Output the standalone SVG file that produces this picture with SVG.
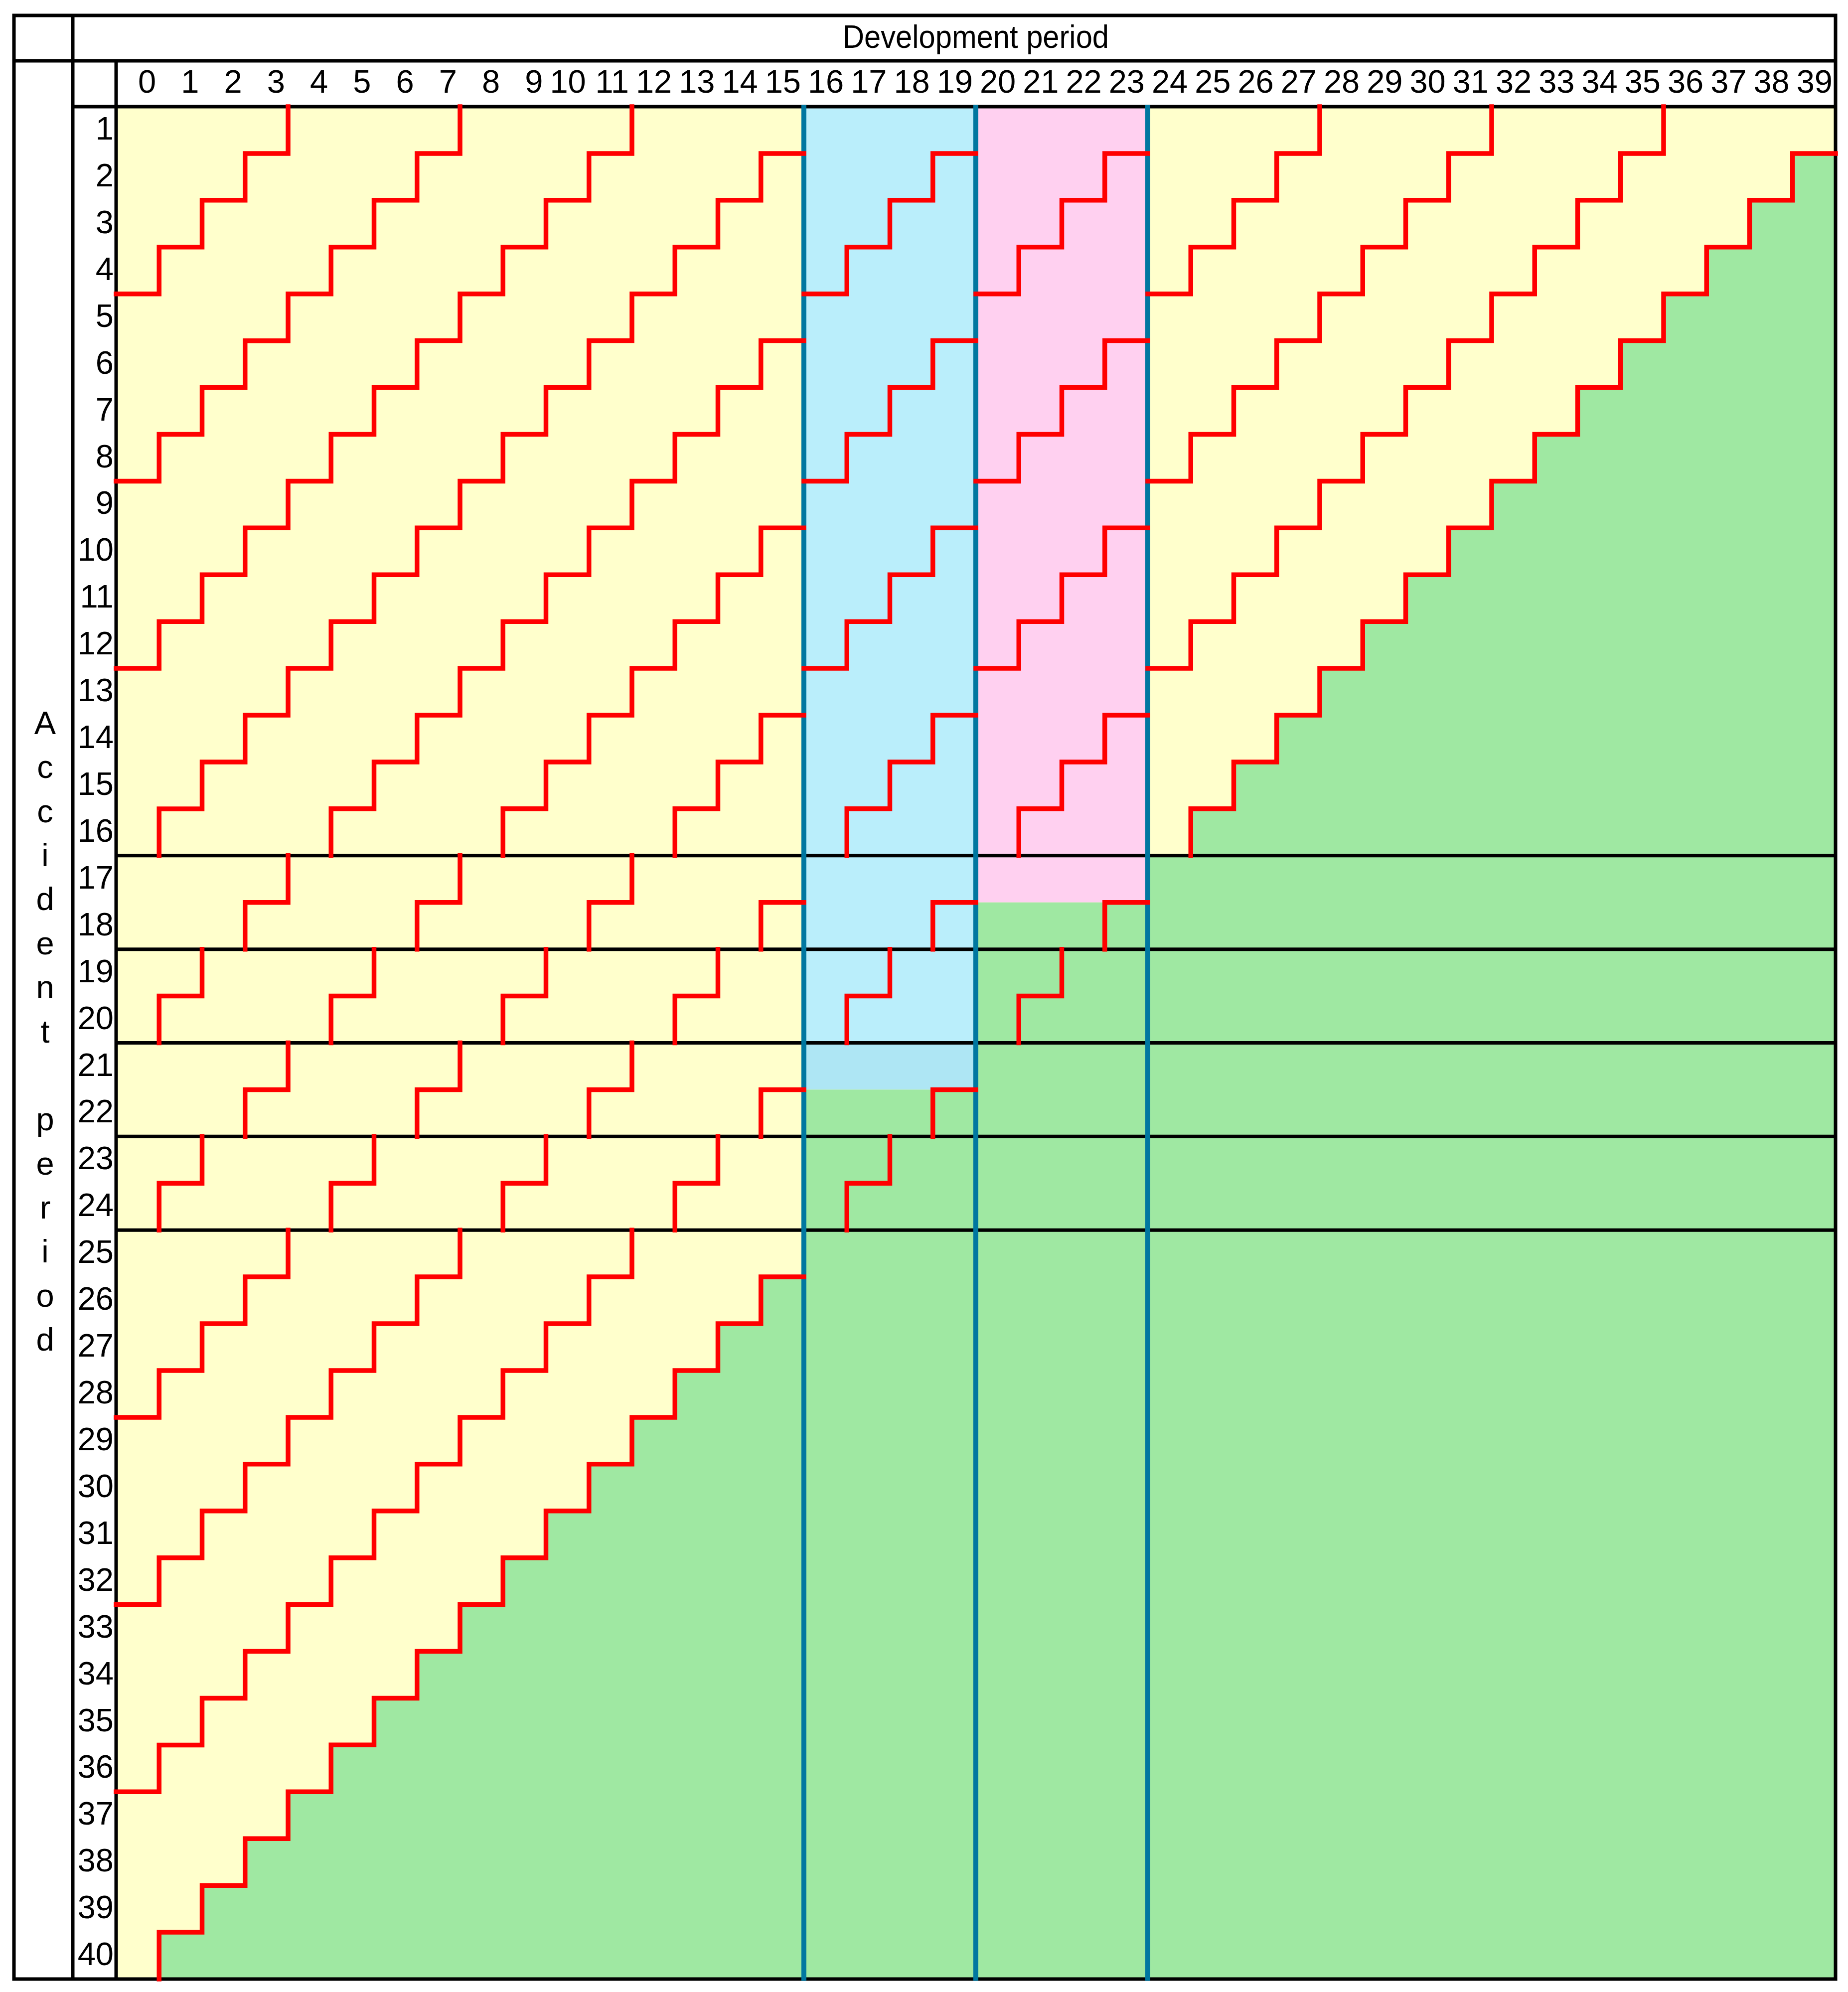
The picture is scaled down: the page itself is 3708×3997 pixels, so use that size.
<svg xmlns="http://www.w3.org/2000/svg" width="3708" height="3997" viewBox="0 0 3708 3997">
<style>
.t{font-family:"Liberation Sans",Arial,Helvetica,sans-serif;font-size:65px;fill:#000}
.e{text-anchor:end}
.m{text-anchor:middle}
.bk{stroke:#000;stroke-width:7;fill:none}
.bl{stroke:#0077A0;stroke-width:10;fill:none}
.rd{stroke:#FF0000;stroke-width:9.5;fill:none;stroke-linecap:square;stroke-linejoin:miter}
</style>
<rect x="0" y="0" width="3708" height="3997" fill="#FFFFFF"/>
<g id="fills">
<rect x="233" y="214" width="3450" height="3757" fill="#FFFFCC"/>
<path fill="#9FE8A2" d="M3683 307.925 h-86.25
v93.925h-86.25 v93.925h-86.25 v93.925h-86.25 v93.925h-86.25 v93.925h-86.25
v93.925h-86.25 v93.925h-86.25 v93.925h-86.25 v93.925h-86.25 v93.925h-86.25
v93.925h-86.25 v93.925h-86.25 v93.925h-86.25 v93.925h-86.25 v93.925h-86.25
v93.925h-86.25 v93.925h-86.25 v93.925h-86.25 v93.925h-86.25 v93.925h-86.25
v93.925h-86.25 v93.925h-86.25 v93.925h-86.25 v93.925h-86.25 v93.925h-86.25
v93.925h-86.25 v93.925h-86.25 v93.925h-86.25 v93.925h-86.25 v93.925h-86.25
v93.925h-86.25 v93.925h-86.25 v93.925h-86.25 v93.925h-86.25 v93.925h-86.25
v93.925h-86.25 v93.925h-86.25 v93.925h-86.25
v93.925 H3683 Z"/>
<rect x="1613" y="214" width="345" height="1878.5" fill="#BAEEFB"/>
<rect x="1613" y="2092.5" width="345" height="93.925" fill="#AEE6F4"/>
<rect x="1613" y="2186.425" width="345" height="1784.575" fill="#9FE8A2"/>
<rect x="1958" y="214" width="345" height="1596.725" fill="#FFD0F0"/>
<rect x="1958" y="1810.725" width="345" height="2160.275" fill="#9FE8A2"/>
</g>
<g id="grid">
<rect class="bk" x="28" y="31" width="3655" height="3940"/>
<line class="bk" x1="146" y1="31" x2="146" y2="3971"/>
<line class="bk" x1="28" y1="122" x2="3683" y2="122"/>
<line class="bk" x1="233" y1="122" x2="233" y2="3971"/>
<line class="bk" x1="146" y1="214" x2="3683" y2="214"/>
<line class="bk" x1="233" y1="1716.8" x2="3683" y2="1716.8"/>
<line class="bk" x1="233" y1="1904.65" x2="3683" y2="1904.65"/>
<line class="bk" x1="233" y1="2092.5" x2="3683" y2="2092.5"/>
<line class="bk" x1="233" y1="2280.35" x2="3683" y2="2280.35"/>
<line class="bk" x1="233" y1="2468.2" x2="3683" y2="2468.2"/>
</g>
<g id="blue-lines">
<line class="bl" x1="1613" y1="210.5" x2="1613" y2="3974.5"/>
<line class="bl" x1="1958" y1="210.5" x2="1958" y2="3974.5"/>
<line class="bl" x1="2303" y1="210.5" x2="2303" y2="3974.5"/>
</g>
<g id="connectors">
<path class="rd" d="M233 589.7
h86.25v-93.925 h86.25v-93.925 h86.25v-93.925 h86.25v-93.925"/>
<path class="rd" d="M233 965.4
h86.25v-93.925 h86.25v-93.925 h86.25v-93.925 h86.25v-93.925 h86.25v-93.925
h86.25v-93.925 h86.25v-93.925 h86.25v-93.925"/>
<path class="rd" d="M233 1341.1
h86.25v-93.925 h86.25v-93.925 h86.25v-93.925 h86.25v-93.925 h86.25v-93.925
h86.25v-93.925 h86.25v-93.925 h86.25v-93.925 h86.25v-93.925 h86.25v-93.925
h86.25v-93.925 h86.25v-93.925"/>
<path class="rd" d="M319.25 1716.8 v-93.925
h86.25v-93.925 h86.25v-93.925 h86.25v-93.925 h86.25v-93.925 h86.25v-93.925
h86.25v-93.925 h86.25v-93.925 h86.25v-93.925 h86.25v-93.925 h86.25v-93.925
h86.25v-93.925 h86.25v-93.925 h86.25v-93.925 h86.25v-93.925
h86.25"/>
<path class="rd" d="M319.25 2092.5 v-93.925
h86.25v-93.925
m86.25 0v-93.925
h86.25v-93.925
m86.25 0v-93.925
h86.25v-93.925 h86.25v-93.925 h86.25v-93.925 h86.25v-93.925 h86.25v-93.925
h86.25v-93.925 h86.25v-93.925 h86.25v-93.925 h86.25v-93.925 h86.25v-93.925
h86.25m0-93.925
h86.25v-93.925 h86.25v-93.925 h86.25v-93.925
h86.25"/>
<path class="rd" d="M319.25 2468.2 v-93.925
h86.25v-93.925
m86.25 0v-93.925
h86.25v-93.925
m86.25 0v-93.925
h86.25v-93.925
m86.25 0v-93.925
h86.25v-93.925
m86.25 0v-93.925
h86.25v-93.925 h86.25v-93.925 h86.25v-93.925 h86.25v-93.925 h86.25v-93.925
h86.25v-93.925
h86.25m0-93.925
h86.25v-93.925 h86.25v-93.925 h86.25v-93.925
h86.25m0-93.925
h86.25v-93.925 h86.25v-93.925 h86.25v-93.925
h86.25"/>
<path class="rd" d="M233 2843.9
h86.25v-93.925 h86.25v-93.925 h86.25v-93.925 h86.25v-93.925
m86.25 0v-93.925
h86.25v-93.925
m86.25 0v-93.925
h86.25v-93.925
m86.25 0v-93.925
h86.25v-93.925
m86.25 0v-93.925
h86.25v-93.925
m86.25 0v-93.925
h86.25v-93.925 h86.25v-93.925
h86.25m0-93.925
h86.25v-93.925 h86.25v-93.925 h86.25v-93.925
h86.25m0-93.925
h86.25v-93.925 h86.25v-93.925 h86.25v-93.925
h86.25m0-93.925
h86.25v-93.925 h86.25v-93.925 h86.25v-93.925 h86.25v-93.925"/>
<path class="rd" d="M233 3219.6
h86.25v-93.925 h86.25v-93.925 h86.25v-93.925 h86.25v-93.925 h86.25v-93.925
h86.25v-93.925 h86.25v-93.925 h86.25v-93.925
m86.25 0v-93.925
h86.25v-93.925
m86.25 0v-93.925
h86.25v-93.925
m86.25 0v-93.925
h86.25v-93.925
m86.25 0v-93.925
h86.25m0-93.925
m86.25 0v-93.925
h86.25v-93.925 h86.25v-93.925
h86.25m0-93.925
h86.25v-93.925 h86.25v-93.925 h86.25v-93.925
h86.25m0-93.925
h86.25v-93.925 h86.25v-93.925 h86.25v-93.925 h86.25v-93.925 h86.25v-93.925
h86.25v-93.925 h86.25v-93.925 h86.25v-93.925"/>
<path class="rd" d="M233 3595.3
h86.25v-93.925 h86.25v-93.925 h86.25v-93.925 h86.25v-93.925 h86.25v-93.925
h86.25v-93.925 h86.25v-93.925 h86.25v-93.925 h86.25v-93.925 h86.25v-93.925
h86.25v-93.925 h86.25v-93.925
m86.25 0v-93.925
h86.25v-93.925
m86.25 0v-93.925
h86.25m0-93.925
m86.25 0v-93.925
h86.25v-93.925
m86.25 0v-93.925
h86.25m0-93.925
m86.25 0v-93.925
h86.25v-93.925 h86.25v-93.925
h86.25m0-93.925
h86.25v-93.925 h86.25v-93.925 h86.25v-93.925 h86.25v-93.925 h86.25v-93.925
h86.25v-93.925 h86.25v-93.925 h86.25v-93.925 h86.25v-93.925 h86.25v-93.925
h86.25v-93.925 h86.25v-93.925"/>
<path class="rd" d="M319.25 3971 v-93.925
h86.25v-93.925 h86.25v-93.925 h86.25v-93.925 h86.25v-93.925 h86.25v-93.925
h86.25v-93.925 h86.25v-93.925 h86.25v-93.925 h86.25v-93.925 h86.25v-93.925
h86.25v-93.925 h86.25v-93.925 h86.25v-93.925 h86.25v-93.925
h86.25m0-93.925
m86.25 0v-93.925
h86.25v-93.925
m86.25 0v-93.925
h86.25m0-93.925
m86.25 0v-93.925
h86.25v-93.925
m86.25 0v-93.925
h86.25m0-93.925
m86.25 0v-93.925
h86.25v-93.925 h86.25v-93.925 h86.25v-93.925 h86.25v-93.925 h86.25v-93.925
h86.25v-93.925 h86.25v-93.925 h86.25v-93.925 h86.25v-93.925 h86.25v-93.925
h86.25v-93.925 h86.25v-93.925 h86.25v-93.925 h86.25v-93.925
h86.25"/>
</g>
<g id="title" class="t">
<text class="m" x="1958" y="96" textLength="534" lengthAdjust="spacingAndGlyphs">Development period</text>
</g>
<g id="col-labels" class="t e">
<text x="313.25" y="186">0</text><text x="399.5" y="186">1</text><text x="485.75" y="186">2</text><text x="572" y="186">3</text><text x="658.25" y="186">4</text><text x="744.5" y="186">5</text><text x="830.75" y="186">6</text><text x="917" y="186">7</text><text x="1003.25" y="186">8</text><text x="1089.5" y="186">9</text>
<text x="1175.75" y="186">10</text><text x="1262" y="186">11</text><text x="1348.25" y="186">12</text><text x="1434.5" y="186">13</text><text x="1520.75" y="186">14</text><text x="1607" y="186">15</text><text x="1693.25" y="186">16</text><text x="1779.5" y="186">17</text><text x="1865.75" y="186">18</text><text x="1952" y="186">19</text>
<text x="2038.25" y="186">20</text><text x="2124.5" y="186">21</text><text x="2210.75" y="186">22</text><text x="2297" y="186">23</text><text x="2383.25" y="186">24</text><text x="2469.5" y="186">25</text><text x="2555.75" y="186">26</text><text x="2642" y="186">27</text><text x="2728.25" y="186">28</text><text x="2814.5" y="186">29</text>
<text x="2900.75" y="186">30</text><text x="2987" y="186">31</text><text x="3073.25" y="186">32</text><text x="3159.5" y="186">33</text><text x="3245.75" y="186">34</text><text x="3332" y="186">35</text><text x="3418.25" y="186">36</text><text x="3504.5" y="186">37</text><text x="3590.75" y="186">38</text><text x="3677" y="186">39</text>
</g>
<g id="row-labels" class="t e">
<text x="228" y="280">1</text><text x="228" y="373.9">2</text><text x="228" y="467.9">3</text><text x="228" y="561.8">4</text><text x="228" y="655.7">5</text><text x="228" y="749.6">6</text><text x="228" y="843.6">7</text><text x="228" y="937.5">8</text><text x="228" y="1031.4">9</text><text x="228" y="1125.3">10</text>
<text x="228" y="1219.3">11</text><text x="228" y="1313.2">12</text><text x="228" y="1407.1">13</text><text x="228" y="1501">14</text><text x="228" y="1595">15</text><text x="228" y="1688.9">16</text><text x="228" y="1782.8">17</text><text x="228" y="1876.7">18</text><text x="228" y="1970.7">19</text><text x="228" y="2064.6">20</text>
<text x="228" y="2158.5">21</text><text x="228" y="2252.4">22</text><text x="228" y="2346.4">23</text><text x="228" y="2440.3">24</text><text x="228" y="2534.2">25</text><text x="228" y="2628.1">26</text><text x="228" y="2722.1">27</text><text x="228" y="2816">28</text><text x="228" y="2909.9">29</text><text x="228" y="3003.8">30</text>
<text x="228" y="3097.8">31</text><text x="228" y="3191.7">32</text><text x="228" y="3285.6">33</text><text x="228" y="3379.5">34</text><text x="228" y="3473.5">35</text><text x="228" y="3567.4">36</text><text x="228" y="3661.3">37</text><text x="228" y="3755.2">38</text><text x="228" y="3849.2">39</text><text x="228" y="3943.1">40</text>
</g>
<g id="axis-label" class="t m">
<text><tspan x="90.5" y="1473">A</tspan><tspan x="90.5" y="1561.4">c</tspan><tspan x="90.5" y="1649.7">c</tspan><tspan x="90.5" y="1738.1">i</tspan><tspan x="90.5" y="1826.4">d</tspan><tspan x="90.5" y="1914.8">e</tspan><tspan x="90.5" y="2003.2">n</tspan><tspan x="90.5" y="2091.5">t</tspan><tspan x="90.5" y="2268.2">p</tspan><tspan x="90.5" y="2356.6">e</tspan><tspan x="90.5" y="2445">r</tspan><tspan x="90.5" y="2533.3">i</tspan><tspan x="90.5" y="2621.7">o</tspan><tspan x="90.5" y="2710">d</tspan></text>
</g>
</svg>
